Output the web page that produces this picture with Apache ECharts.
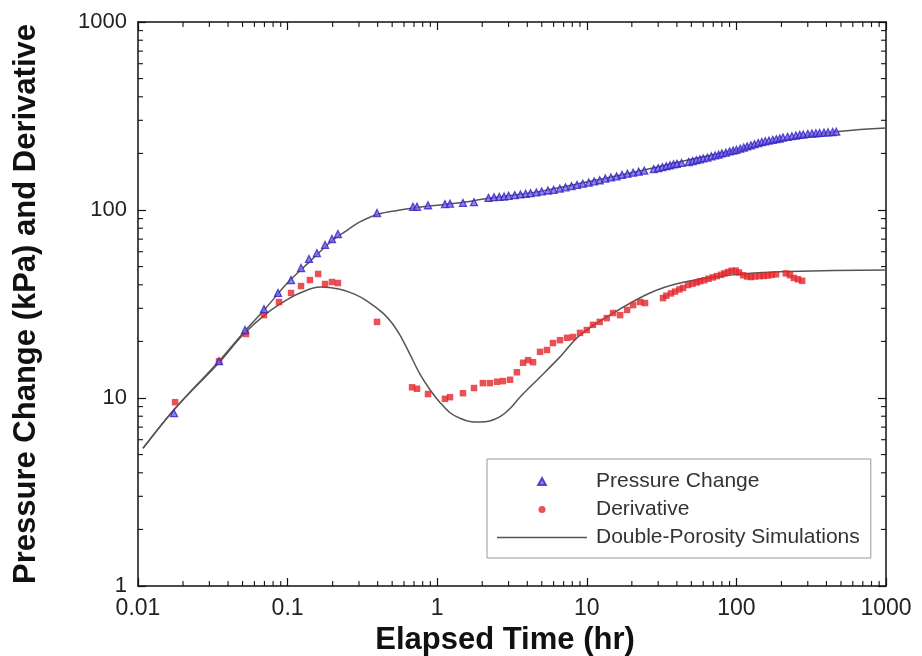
<!DOCTYPE html>
<html>
<head>
<meta charset="utf-8">
<script src="https://cdn.jsdelivr.net/npm/echarts@6/dist/echarts.min.js"></script>
<style>
  html, body { margin: 0; padding: 0; background: #fff; }
  #chart { width: 922px; height: 656px; }
</style>
</head>
<body>
<div id="chart"></div>
<script>
// Pressure change points (hr, kPa)
const pressureTime = [
  0.0174, 0.0348, 0.0519, 0.0695, 0.0863, 0.1054, 0.123, 0.139, 0.157, 0.178, 0.198, 0.217, 0.396,
  0.689, 0.733, 0.868, 1.127, 1.218, 1.487, 1.762,
  2.2, 2.4, 2.6, 2.8, 3.0, 3.3, 3.6, 3.9, 4.2, 4.6, 5.0, 5.5, 6.0, 6.6, 7.2, 7.9, 8.6, 9.4,
  10.3, 11.2, 12.2, 13.3, 14.5, 15.8, 17.2, 18.7, 20.4, 22.2, 24.2,
  28, 30, 32, 34, 36, 38, 40, 43,
  48, 51, 54, 57, 60, 64, 68, 72, 76, 80, 85, 90, 95, 100, 106, 112, 118, 125, 132, 140, 148,
  156, 165, 175, 185, 195,
  205, 220, 235, 250, 265, 280, 300, 320, 340, 360, 385, 410, 440, 465
];
const pressureValue = [
  8.3, 15.7, 23.0, 29.7, 36.2, 42.4, 49.1, 54.9, 59.0, 65.2, 70.1, 74.5, 96.4,
  104, 104, 106, 107.5, 108, 109, 110,
  116, 117, 117.5, 118, 119, 120, 121, 122, 123, 124, 125.5, 127, 128, 130, 132, 134, 136, 138,
  140, 142, 144, 147, 149, 151, 154, 156, 158, 160, 162,
  165, 167, 169, 171, 173, 175, 176, 178,
  180, 182, 184, 186, 188, 190, 193, 195, 197, 200, 202, 205, 207, 209, 212, 215, 218, 221, 224, 227, 230,
  232, 234, 236, 238, 240,
  243, 245, 247, 249, 251, 252, 254, 255, 256, 257, 258, 259, 260, 261
];

// Derivative points (hr, kPa)
const derivTime = [
  0.0177, 0.0348, 0.0527, 0.0695, 0.0876, 0.1054, 0.123, 0.141, 0.160, 0.178, 0.198, 0.217, 0.396,
  0.679, 0.733, 0.868, 1.127, 1.218, 1.487, 1.762, 2.02, 2.25, 2.51, 2.75, 3.07, 3.41, 3.75, 4.05,
  4.37, 4.87, 5.42, 5.94, 6.62, 7.38, 8.09, 9.01, 10.0, 11.0, 12.2, 13.6, 15.0, 16.7, 18.6, 20.4,
  22.7, 24.5,
  32.3, 34.0, 36.5, 38.9, 41.6, 44.0, 47.5, 50.8, 54.4, 57.1, 61, 65, 69.5, 74, 79, 83, 88, 93, 99,
  104, 111, 118, 125, 133, 143, 152, 162, 172, 184, 214, 228, 242, 258, 275
];
const derivValue = [
  9.5, 15.7, 21.9, 27.6, 32.4, 36.2, 39.4, 42.4, 45.7, 40.4, 41.4, 40.9, 25.4,
  11.4, 11.2, 10.5, 9.9, 10.1, 10.6, 11.3, 12.0, 12.0, 12.2, 12.3, 12.5, 13.7, 15.4, 15.9,
  15.5, 17.6, 18.0, 19.6, 20.3, 20.9, 21.1, 22.2, 23.0, 24.5, 25.4, 26.6, 28.3, 27.6, 29.4, 31.2,
  32.4, 32.0,
  34.0, 35.0, 36.0, 36.8, 37.8, 38.5, 39.9, 40.5, 41.2, 41.8, 42.3, 43.1, 43.8, 44.5, 45.2, 46.0, 46.8, 47.5, 47.6,
  46.5, 45.0, 44.3, 44.0, 44.3, 44.5, 44.6, 44.8, 45.2, 45.5, 46.0, 45.0, 43.5, 42.8, 42.0
];

// Double-porosity simulation curves
const simPTime = [0.0108, 0.0177, 0.035, 0.052, 0.07, 0.1, 0.14, 0.2, 0.25, 0.3, 0.4, 0.564, 0.8, 1,
  1.5, 2, 3, 5, 10, 20, 50, 100, 200, 500, 1000];
const simPValue = [5.4, 8.8, 15.8, 22.8, 29.5, 41, 53, 69, 78, 86, 95, 100, 104, 106,
  110, 114, 119, 126, 141, 158, 186, 208, 235, 262, 273];
const simDTime = [0.0108, 0.0177, 0.035, 0.05, 0.0728, 0.1, 0.121, 0.165, 0.22, 0.28, 0.34, 0.434,
  0.5, 0.564, 0.657, 0.767, 0.9, 1.04, 1.218, 1.42, 1.65, 1.93, 2.25, 2.63, 3.07, 3.57, 4.86, 6.6,
  9.0, 15.0, 26.4, 42, 80, 150, 266, 1000];
const simDValue = [5.4, 8.8, 15.5, 21.6, 28.3, 33.5, 36.2, 38.9, 38.0, 35.7, 32.8, 28.3,
  25.0, 21.6, 17.1, 13.4, 11.0, 9.5, 8.35, 7.8, 7.5, 7.45, 7.55, 7.95, 8.8, 10.1, 12.9, 16.5,
  21.6, 28.3, 36.2, 40.9, 44.5, 46.5, 47.3, 48];

// Axis ticks
const xDecades = [0.01, 0.1, 1, 10, 100];
const yDecades = [1, 10, 100];
const minorSteps = [2, 3, 4, 5, 6, 7, 8, 9];

const zip = (a, b) => a.map((v, i) => [v, b[i]]);
const xMinor = [];
xDecades.forEach(d => minorSteps.forEach(m => xMinor.push([d * m, 1])));
const yMinor = [];
yDecades.forEach(d => minorSteps.forEach(m => yMinor.push([0.01, d * m])));

const chart = echarts.init(document.getElementById('chart'));
const FONT = 'Liberation Sans, Arial, sans-serif';
const axisLine = { lineStyle: { color: '#111', width: 1.5 } };
const tick = { inside: true, length: 8, lineStyle: { color: '#111', width: 1.2 } };
const numLabel = v => String(+Number(v).toPrecision(6));

chart.setOption({
  animation: false,
  backgroundColor: '#fff',
  textStyle: { fontFamily: FONT },
  grid: { left: 138, right: 36, top: 22, bottom: 70, outerBoundsMode: 'none' },
  legend: {
    data: [
      { name: 'Pressure Change', icon: 'path://M0,10 L5.5,0 L11,10 Z' },
      { name: 'Derivative', icon: 'path://M0,5 a5,5 0 1,0 10,0 a5,5 0 1,0 -10,0 Z' },
      { name: 'Double-Porosity Simulations', icon: 'path://M0,0 H90 V1.5 H0 Z' }
    ],
    orient: 'vertical',
    left: 487,
    top: 459,
    padding: [12, 11, 10, 10],
    itemWidth: 90,
    itemHeight: 7,
    itemGap: 7,
    symbolKeepAspect: true,
    borderColor: '#999',
    borderWidth: 1,
    backgroundColor: '#fff',
    textStyle: { fontSize: 21, color: '#333', fontFamily: FONT, padding: [0, 0, 0, 4], lineHeight: 20 }
  },
  xAxis: [
    {
      type: 'log', logBase: 10, min: 0.01, max: 1000,
      name: 'Elapsed Time (hr)', nameLocation: 'middle', nameGap: 38,
      nameTextStyle: { fontSize: 31, fontWeight: 'bold', color: '#111', fontFamily: FONT, padding: [0, 14, 0, 0] },
      axisLine, axisTick: tick, splitLine: { show: false },
      axisLabel: { fontSize: 23, color: '#222', margin: 11, fontFamily: FONT, formatter: numLabel }
    },
    {
      type: 'log', logBase: 10, min: 0.01, max: 1000, position: 'top',
      axisLine, axisTick: tick, splitLine: { show: false }, axisLabel: { show: false }
    }
  ],
  yAxis: [
    {
      type: 'log', logBase: 10, min: 1, max: 1000,
      name: 'Pressure Change (kPa) and Derivative', nameLocation: 'middle', nameGap: 96,
      nameTextStyle: { fontSize: 31, fontWeight: 'bold', color: '#111', fontFamily: FONT },
      axisLine, axisTick: tick, splitLine: { show: false },
      axisLabel: { fontSize: 22, color: '#222', margin: 11, fontFamily: FONT, formatter: numLabel }
    },
    {
      type: 'log', logBase: 10, min: 1, max: 1000, position: 'right',
      axisLine, axisTick: tick, splitLine: { show: false }, axisLabel: { show: false }
    }
  ],
  series: [
    {
      name: 'Double-Porosity Simulations', type: 'line', data: zip(simPTime, simPValue),
      smooth: 0.35, symbol: 'none', showSymbol: false,
      lineStyle: { color: '#555', width: 1.5 }, itemStyle: { color: '#555' }, z: 2
    },
    {
      name: 'Double-Porosity Simulations', type: 'line', data: zip(simDTime, simDValue),
      smooth: 0.35, symbol: 'none', showSymbol: false,
      lineStyle: { color: '#555', width: 1.5 }, itemStyle: { color: '#555' }, z: 2
    },
    {
      name: 'Pressure Change', type: 'scatter', data: zip(pressureTime, pressureValue),
      symbol: 'triangle', symbolSize: 7,
      itemStyle: { color: '#7468e4', borderColor: '#3520c4', borderWidth: 1.3 }, z: 4
    },
    {
      name: 'Derivative', type: 'scatter', data: zip(derivTime, derivValue),
      symbol: 'rect', symbolSize: 6.5,
      itemStyle: { color: '#e2262b' }, z: 3
    },
    {
      type: 'custom', data: xMinor, silent: true, z: 5,
      renderItem: (params, api) => {
        const v = api.value(0);
        const b = api.coord([v, 1]);
        const t = api.coord([v, 1000]);
        const style = { stroke: '#111', lineWidth: 1.1 };
        return { type: 'group', children: [
          { type: 'line', shape: { x1: b[0], y1: b[1], x2: b[0], y2: b[1] - 5 }, style },
          { type: 'line', shape: { x1: t[0], y1: t[1], x2: t[0], y2: t[1] + 5 }, style }
        ] };
      }
    },
    {
      type: 'custom', data: yMinor, silent: true, z: 5,
      renderItem: (params, api) => {
        const v = api.value(1);
        const l = api.coord([0.01, v]);
        const r = api.coord([1000, v]);
        const style = { stroke: '#111', lineWidth: 1.1 };
        return { type: 'group', children: [
          { type: 'line', shape: { x1: l[0], y1: l[1], x2: l[0] + 5, y2: l[1] }, style },
          { type: 'line', shape: { x1: r[0], y1: r[1], x2: r[0] - 5, y2: r[1] }, style }
        ] };
      }
    }
  ]
});
</script>
</body>
</html>
